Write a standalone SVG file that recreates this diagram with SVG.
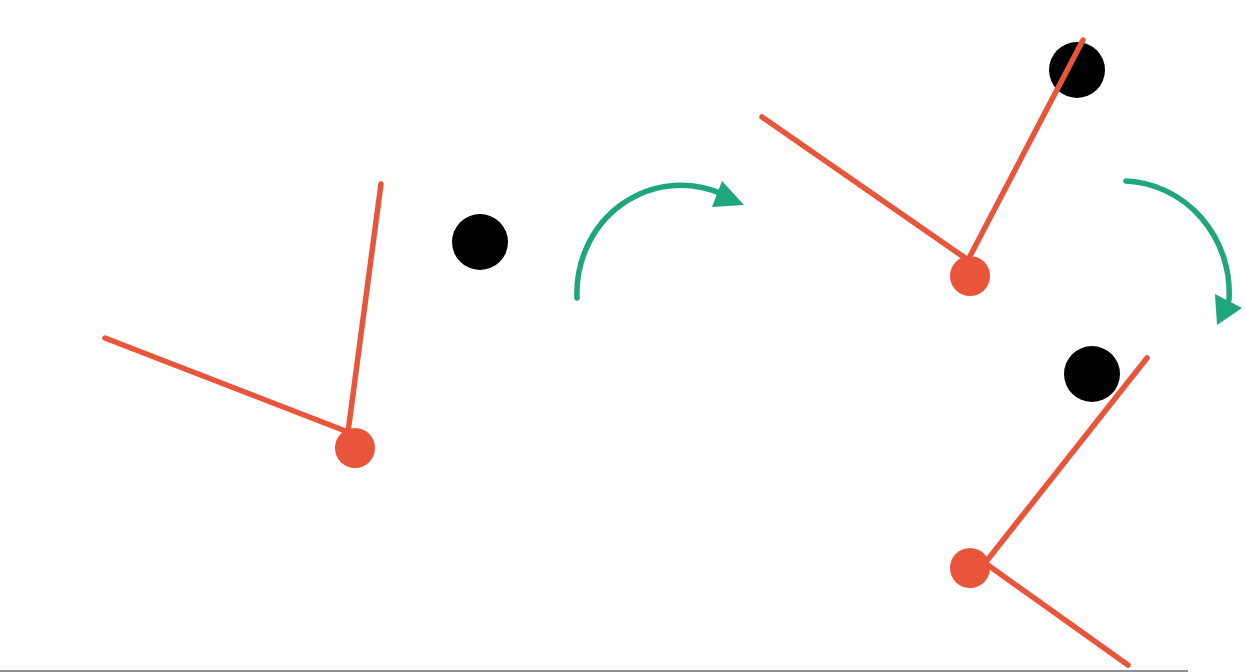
<svg xmlns="http://www.w3.org/2000/svg" width="1245" height="672" viewBox="0 0 1245 672">
<style>
.rod{stroke:#E8553A;stroke-width:5.5;stroke-linecap:round;fill:none}
.pivot{fill:#E8553A}
.bob{fill:#000}
.arc{stroke:#1FA67C;stroke-width:5.5;stroke-linecap:round;fill:none}
.head{fill:#1FA67C}
</style>
<rect width="1245" height="672" fill="#fff"/>
<g id="pendulum1">
<circle class="bob" cx="480" cy="242" r="28"/>
<line class="rod" x1="348" y1="432" x2="381" y2="184"/>
<line class="rod" x1="348" y1="432" x2="105" y2="338"/>
<circle class="pivot" cx="355" cy="448" r="20"/>
</g>
<g id="pendulum2">
<circle class="bob" cx="1077" cy="70" r="28"/>
<line class="rod" x1="968" y1="260" x2="1083" y2="40"/>
<line class="rod" x1="968" y1="260" x2="762" y2="117"/>
<circle class="pivot" cx="970" cy="276" r="20"/>
</g>
<g id="pendulum3">
<circle class="bob" cx="1092" cy="374" r="28"/>
<line class="rod" x1="985" y1="563" x2="1147" y2="358"/>
<line class="rod" x1="985" y1="563" x2="1128" y2="665"/>
<circle class="pivot" cx="970" cy="568" r="20"/>
</g>
<g id="connectors">
<path class="arc" d="M577,298 A104,108 0 0 1 722,194"/>
<polygon class="head" points="722,181 744,205 712,207"/>
<path class="arc" d="M1126,181 A108,112 0 0 1 1229,300"/>
<polygon class="head" points="1215,294 1242,308 1217,325"/>
</g>
<line x1="0" y1="671" x2="1188" y2="671" stroke="#8A8F99" stroke-width="2"/>
</svg>
